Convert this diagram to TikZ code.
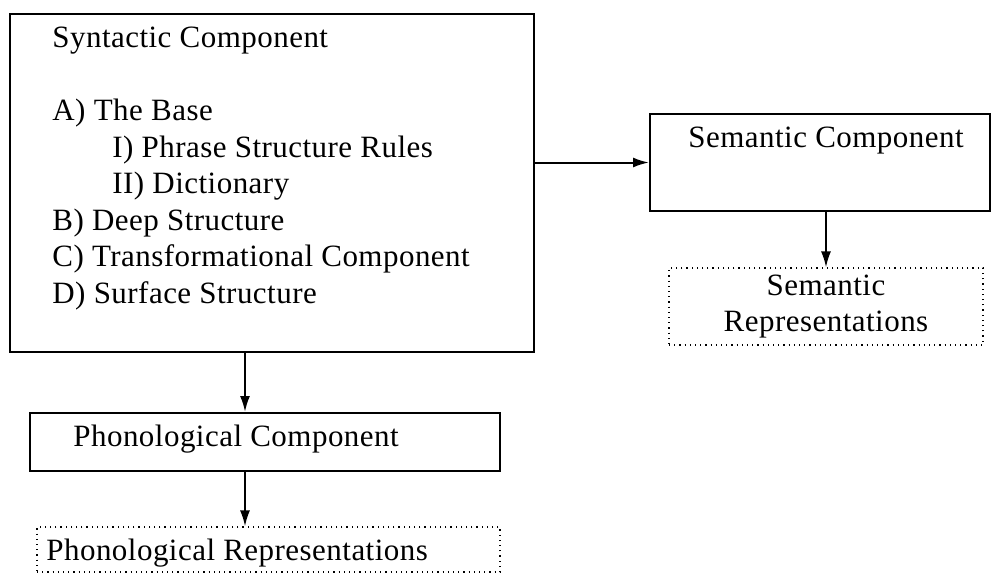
\documentclass[tikz,border=0pt]{standalone}
\usepackage{fontspec}
\setmainfont[LetterSpace=1.5]{Liberation Serif}
\usetikzlibrary{arrows.meta}
\tikzset{
  compbox/.style={draw, line width=1pt, inner sep=0pt},
  repbox/.style={draw, dotted, line width=0.6pt, inner sep=0pt},
  flow/.style={-{Latex[length=8pt,width=5pt]}, line width=1pt},
  lbl/.style={inner sep=0pt, font=\fontsize{15.5}{18.3}\selectfont}
}

\begin{document}
\begin{tikzpicture}[x=0.5pt,y=0.5pt,yscale=-1,xscale=1]
\useasboundingbox (0,0) rectangle (992,574);

%Shape: Rectangle [syntactic component]
\node [compbox, minimum width=262pt, minimum height=169pt] (syn) at (272,183) {};
\node [lbl, anchor=north west, align=left] (synlbl) at (52,27) {Syntactic Component\\[18pt]
A) The Base\\
\hspace{30pt}I) Phrase Structure Rules\\
\hspace{30pt}II) Dictionary\\
B) Deep Structure\\
C) Transformational Component\\
D) Surface Structure};

%Shape: Rectangle [semantic component]
\node [compbox, minimum width=170pt, minimum height=48.5pt] (sem) at (820,162.5) {};
\node [lbl, anchor=base] (semlbl) at (826,147) {Semantic Component};

%Shape: Rectangle [semantic representations]
\node [repbox, lbl, align=center, minimum width=157pt, minimum height=38.5pt] (semrep) at (826,306.5) {Semantic\\Representations};

%Shape: Rectangle [phonological component]
\node [compbox, minimum width=235pt, minimum height=29pt] (phon) at (265,442) {};
\node [lbl, anchor=base west] (phonlbl) at (73,446) {Phonological Component};

%Shape: Rectangle [phonological representations]
\node [repbox, minimum width=231.5pt, minimum height=22.5pt] (phonrep) at (268.5,549.5) {};
\node [lbl, anchor=base west] (phonreplbl) at (46,560) {Phonological Representations};

%Straight Lines [arrows]
\draw [flow] (syn.east |- sem.west) -- (sem.west);
\draw [flow] (semrep.north |- sem.south) -- (semrep.north);
\draw [flow] ([xshift=-10pt]phon.north |- syn.south) -- ([xshift=-10pt]phon.north);
\draw [flow] ([xshift=-11.75pt]phonrep.north |- phon.south) -- ([xshift=-11.75pt]phonrep.north);

\end{tikzpicture}
\end{document}
